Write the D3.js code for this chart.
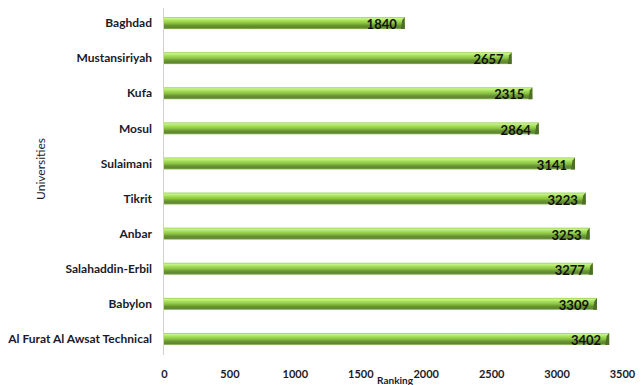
<!DOCTYPE html>
<html>
<head>
<meta charset="utf-8">
<script src="https://cdn.jsdelivr.net/npm/d3@7"></script>
<style>
  body { margin: 0; background: #fff; }
  svg { display: block; }
  text { font-family: Lato, "Open Sans", sans-serif; fill: #1a1a2a; }
</style>
</head>
<body>
<div id="chart"></div>
<script>
const universities = [
  "Baghdad", "Mustansiriyah", "Kufa", "Mosul", "Sulaimani",
  "Tikrit", "Anbar", "Salahaddin-Erbil", "Babylon", "Al Furat Al Awsat Technical"
];
// bar lengths as drawn in the picture
const rankings = [1840, 2657, 2815, 2864, 3141, 3223, 3253, 3277, 3309, 3402];
// value labels as printed on the bars
const valueLabels = ["1840", "2657", "2315", "2864", "3141", "3223", "3253", "3277", "3309", "3402"];
const xTicks = [0, 500, 1000, 1500, 2000, 2500, 3000, 3500];

const W = 643, H = 385;

const svg = d3.select("#chart").append("svg")
  .attr("width", W)
  .attr("height", H);

// --- gradient for cylinder look ---
const defs = svg.append("defs");
const grad = defs.append("linearGradient")
  .attr("id", "barGrad")
  .attr("x1", 0).attr("y1", 0).attr("x2", 0).attr("y2", 1);
[
  [0, "#93d04c"], [0.12, "#c8f38a"], [0.3, "#a6e05a"], [0.5, "#8cc444"],
  [0.7, "#6a9536"], [0.88, "#5f852f"], [1, "#8cbc5a"]
].forEach(([o, c]) => grad.append("stop").attr("offset", o).attr("stop-color", c));

// --- scales ---
const x = d3.scaleLinear()
  .domain([0, 3500])
  .range([164, 622]);

const y = d3.scaleBand()
  .domain(universities)
  .range([5.5, 356.5])
  .paddingInner(0.66)
  .paddingOuter(0.33);

// --- axis line ---
svg.append("line")
  .attr("x1", x(0) - 0.5).attr("x2", x(0) - 0.5)
  .attr("y1", 8).attr("y2", 355)
  .attr("stroke", "#d0d0d0")
  .attr("stroke-width", 1);

// --- x tick labels ---
const xAxis = svg.append("g")
  .attr("transform", "translate(0,378)")
  .call(d3.axisBottom(x).tickValues(xTicks).tickSize(0).tickPadding(0).tickFormat(d3.format("d")));
xAxis.select(".domain").remove();
xAxis.selectAll("text")
  .attr("dy", 0)
  .attr("font-size", "11px")
  .attr("font-weight", "bold")
  .style("font-family", "Lato, sans-serif")
  .style("fill", "#1a1a2a");

// --- category labels ---
const yAxis = svg.append("g")
  .attr("transform", "translate(152,0)")
  .call(d3.axisLeft(y).tickSize(0).tickPadding(0));
yAxis.select(".domain").remove();
yAxis.selectAll("text")
  .attr("font-size", "12px")
  .attr("font-weight", "bold")
  .attr("dy", "0.35em")
  .style("font-family", "Lato, sans-serif")
  .style("fill", "#1a1a2a");

// --- bars ---
const bars = svg.append("g").selectAll("g.bar")
  .data(universities.map((u, i) => ({ u, v: rankings[i], label: valueLabels[i] })))
  .join("g")
  .attr("class", "bar");

bars.append("rect")
  .attr("x", x(0))
  .attr("y", d => y(d.u))
  .attr("width", d => x(d.v) - x(0))
  .attr("height", y.bandwidth())
  .attr("fill", "url(#barGrad)");

// dark bevel at the bar end
bars.append("path")
  .attr("d", d => {
    const x1 = x(d.v), t = y(d.u), b = t + y.bandwidth();
    return `M${x1},${t} L${x1},${b} L${x1 - 4},${b} L${x1 - 2.5},${t + 3} Z`;
  })
  .attr("fill", "#4d6e26");

bars.append("text")
  .attr("x", d => x(d.v) - 8)
  .attr("y", d => y(d.u) + y.bandwidth() / 2 + 1)
  .attr("dy", "0.4em")
  .attr("text-anchor", "end")
  .attr("font-size", "13px")
  .attr("font-weight", "bold")
  .style("fill", "#111")
  .text(d => d.label);

// --- axis titles ---
svg.append("text")
  .attr("x", 395)
  .attr("y", 382)
  .attr("dy", "0.35em")
  .attr("text-anchor", "middle")
  .attr("font-size", "10px")
  .attr("font-weight", "bold")
  .text("Ranking")
  .attr("y", 380);

svg.append("text")
  .attr("transform", "translate(45,169) rotate(-90)")
  .attr("text-anchor", "middle")
  .attr("font-size", "12px")
  .text("Universities");
</script>
</body>
</html>
